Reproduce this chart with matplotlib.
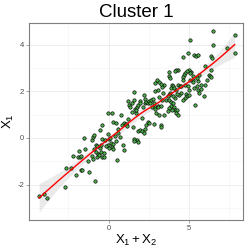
import numpy as np
import matplotlib
matplotlib.use("Agg")
import matplotlib.pyplot as plt
from matplotlib.ticker import MultipleLocator

plt.rcParams['font.family'] = ['Liberation Sans', 'DejaVu Sans']
plt.rcParams['mathtext.fontset'] = 'custom'
plt.rcParams['mathtext.rm'] = 'Liberation Sans'
plt.rcParams['mathtext.it'] = 'Liberation Sans'

title = "Cluster 1"
xlabel = r"$\mathrm{X_1 + X_2}$"
ylabel = r"$\mathrm{X_1}$"
xticks = [0, 5]
yticks = [-2, 0, 2, 4]

# X1 + X2 values
x_lower = [-4.32, -4.01, -3.86, -2.71, -2.64, -2.31, -2.05, -1.74, -1.63, -1.20,
           -0.85, -2.19, -1.84, -1.88, -1.80, -1.70, -1.49, -1.30, -1.51, -1.01,
           -0.97, -0.89, -1.05, -0.95, -0.89, -0.80, -0.80, -0.70, -0.66, -0.74,
           -0.60, -0.56, -0.50, -0.48, -0.43, -0.31, -0.31, -0.41, -0.52, -0.39]
y_lower = [-2.50, -2.40, -2.56, -2.11, -1.30, -1.27, -1.59, -1.36, -1.36, -1.44,
           -1.84, -0.76, -0.54, -0.80, -0.83, -0.76, -0.49, -0.99, -0.01, -0.10,
           0.06, 0.13, -0.76, -0.90, -0.49, -0.30, -0.59, -0.34, -0.69, -0.80,
           -0.74, -0.44, -0.30, -0.61, -0.83, -0.83, -0.63, -0.06, 0.33, 0.56]

x_mid = [-0.06, -0.02, 0.19, 0.23, 0.14, 0.27, -0.02, -0.17, 0.52, 0.39,
         0.48, 0.60, 0.68, 0.76, 0.85, 0.89, 0.93, 0.97, 1.10, 1.18,
         1.22, 1.26, 1.34, 1.43, 1.47, 1.55, 1.59, 1.63, 1.67, 1.72,
         1.76, 1.84, 1.92, 1.96, 2.05, 2.13, 2.21, 2.25, 2.29, 2.34,
         2.42, 2.50, 2.54, 2.62, 2.67, 2.75, 2.83, 2.87, 2.91, 2.96,
         3.04, 3.08, 3.16, 3.24, 3.33, 3.37, 3.41, 3.45, 3.33, 3.24,
         3.12, 3.00, 2.91, 2.87, 3.08, 3.16, 1.80, 1.92, 2.09, 2.25,
         2.34, 2.42, 2.50, 2.83, 1.76, 1.84, 2.21, 1.55, 1.59, 0.56,
         -0.23, 0.05, 0.10, 0.30, 0.05, 0.29, 0.45, 1.07, 1.17, 1.49,
         3.27, 3.27]
y_mid = [0.17, 1.06, 1.09, -0.37, -0.20, -0.46, -0.29, -0.34, -0.94, 0.09,
         -0.11, 0.20, 0.06, 0.99, 0.57, -0.30, -0.51, 0.63, 0.60, 0.80,
         1.60, 1.41, 1.31, 1.13, 1.49, 1.63, 1.97, 1.26, 1.06, 1.20,
         1.31, 1.43, 1.60, 1.49, 0.86, 1.31, 1.83, 1.69, 1.49, 1.54,
         1.51, 1.57, 1.49, 1.63, 1.34, 1.69, 1.51, 1.34, 1.23, 1.06,
         1.37, 1.31, 0.99, 1.37, 1.63, 1.91, 0.99, 2.27, 2.20, 2.31,
         2.40, 2.49, 2.37, 2.00, 2.06, 1.77, 0.31, 0.34, 0.31, 0.37,
         0.56, 0.70, 0.63, 0.60, -0.09, -0.16, 0.20, -0.06, -0.11, 0.37,
         -0.09, -0.05, 0.00, -0.25, -0.45, 0.70, 0.63, 0.59, 0.51, 0.49,
         0.55, 0.45]

x_upper = [6.49, 7.83, 7.83, 7.33, 6.51, 5.08, 4.94, 4.63, 5.31, 5.43,
           5.56, 6.34, 6.42, 5.97, 6.22, 6.28, 6.38, 6.34, 6.09, 5.97,
           5.72, 5.56, 5.64, 5.47, 5.27, 5.23, 5.14, 5.02, 5.06, 4.85,
           4.77, 4.69, 4.65, 4.61, 4.32, 4.19, 4.11, 3.78, 3.74, 3.82,
           3.94, 3.99, 3.90, 4.07, 4.19, 4.32, 4.44, 4.48, 4.77, 4.94,
           5.06, 4.98, 5.27, 5.31, 5.47, 5.56, 5.64, 5.93, 5.76, 5.39,
           4.81, 4.89, 4.98, 4.77, 4.65, 4.48, 4.36, 4.23, 4.11, 3.99,
           3.82, 3.74, 3.66, 3.57, 3.78, 3.90, 3.99, 3.86, 4.07, 4.11,
           4.23, 4.19, 4.32, 3.94, 3.78, 3.66]
y_upper = [4.57, 4.40, 3.64, 3.86, 4.00, 4.19, 3.64, 3.46, 3.56, 3.50,
           3.54, 3.53, 3.44, 3.07, 2.70, 2.64, 2.62, 2.93, 2.50, 2.29,
           2.29, 2.43, 2.72, 2.57, 2.64, 2.47, 2.82, 2.93, 2.79, 2.86,
           2.79, 2.72, 2.62, 2.50, 2.93, 2.93, 2.86, 2.82, 2.64, 2.57,
           2.29, 2.22, 2.14, 2.14, 2.07, 2.29, 2.24, 2.22, 2.29, 2.24,
           2.47, 2.07, 2.39, 2.13, 2.21, 2.07, 1.93, 1.82, 2.10, 1.43,
           1.90, 1.82, 1.86, 1.72, 1.62, 1.93, 1.86, 1.90, 1.72, 1.82,
           1.93, 1.86, 1.79, 1.64, 1.62, 1.53, 1.50, 1.39, 1.33, 1.19,
           1.21, 1.07, 1.00, 1.19, 1.29, 1.14]

x = np.array(x_lower + x_mid + x_upper)
y = np.array(y_lower + y_mid + y_upper)


def loess_matrix(xd, xe, span=0.75):
    """Rows: local quadratic (tricube) smoother weights at each xe."""
    n = len(xd)
    q = int(np.floor(n * span))
    rows = []
    for x0 in xe:
        d = np.abs(xd - x0)
        h = np.sort(d)[q - 1]
        u = d / h
        w = np.where(u < 1, (1 - u ** 3) ** 3, 0.0)
        X = np.column_stack([np.ones(n), xd - x0, (xd - x0) ** 2])
        A = X.T @ (w[:, None] * X)
        rows.append(np.linalg.solve(A, X.T * w)[0])
    return np.array(rows)


# smooth with 95% confidence band (like geom_smooth default loess)
n = len(x)
Lf = loess_matrix(x, x)
resid = y - Lf @ y
IL = np.eye(n) - Lf
delta1 = np.trace(IL.T @ IL)
s = np.sqrt(np.sum(resid ** 2) / delta1)
xs = np.linspace(x.min(), x.max(), 80)
Le = loess_matrix(x, xs)
ys = Le @ y
se = s * np.sqrt(np.sum(Le ** 2, axis=1))
tq = 1.97

fig = plt.figure(figsize=(2.49, 2.49), dpi=100)
ax = fig.add_axes([29 / 249, 1 - 220 / 249, 214 / 249, 197 / 249])

ax.set_xlim(-4.95, 8.35)
ax.set_ylim(-3.52, 4.93)
ax.xaxis.set_minor_locator(MultipleLocator(2.5))
ax.yaxis.set_minor_locator(MultipleLocator(1))
ax.set_xticks(xticks)
ax.set_yticks(yticks)
ax.set_yticklabels([str(t) for t in yticks])
ax.grid(True, which='major', color='#EBEBEB', linewidth=0.6)
ax.grid(True, which='minor', color='#F4F4F4', linewidth=0.4)
ax.set_axisbelow(True)
ax.tick_params(which='minor', length=0)
ax.tick_params(which='major', length=2, width=0.5, color='#7F7F7F',
               labelsize=5.5, labelcolor='#4D4D4D', pad=1.5)
for sp in ax.spines.values():
    sp.set_color('#7F7F7F')
    sp.set_linewidth(0.8)

ax.fill_between(xs, ys - tq * se, ys + tq * se, color='#999999', alpha=0.2,
                linewidth=0, zorder=2)
ax.scatter(x, y, s=6, facecolor='#4DAF4A', edgecolor='black', linewidth=0.45,
           zorder=3)
ax.plot(xs, ys, color='#FF0000', linewidth=1.0, zorder=4)

ax.set_title(title, fontsize=13.5, pad=4)
ax.set_xlabel(xlabel, fontsize=9.5, labelpad=1)
ax.set_ylabel(ylabel, fontsize=9.5, labelpad=1)

fig.savefig("out.png", dpi=100)
